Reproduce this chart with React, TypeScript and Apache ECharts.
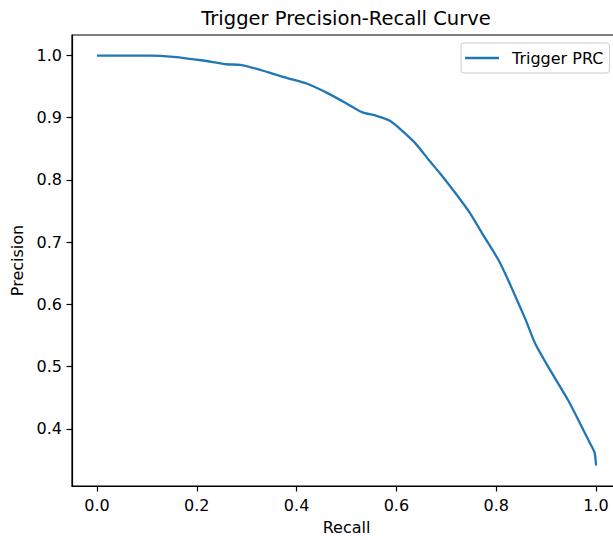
import React, { useEffect, useRef } from "react";
import * as echarts from "echarts";

const recall = [0, 0.05, 0.107, 0.153, 0.213, 0.26, 0.287, 0.327, 0.38, 0.42, 0.461, 0.5, 0.531, 0.56, 0.587, 0.61, 0.639, 0.665, 0.688, 0.72, 0.748, 0.775, 0.804, 0.825, 0.858, 0.878, 0.906, 0.946, 0.987, 0.997, 1.0];
const precision = [1.0, 1.0, 1.0, 0.998, 0.992, 0.986, 0.985, 0.977, 0.964, 0.955, 0.94, 0.923, 0.909, 0.903, 0.895, 0.88, 0.858, 0.832, 0.81, 0.777, 0.746, 0.71, 0.672, 0.637, 0.577, 0.537, 0.497, 0.443, 0.378, 0.362, 0.341];
const xTicks = [0, 0.2, 0.4, 0.6, 0.8, 1.0];
const yTicks = [0.4, 0.5, 0.6, 0.7, 0.8, 0.9, 1.0];
const seriesName = "Trigger PRC";
const titleText = "Trigger Precision-Recall Curve";
const xName = "Recall";
const yName = "Precision";

const FONT = "DejaVu Sans";

export default function App() {
  const ref = useRef<HTMLDivElement>(null);
  useEffect(() => {
    if (!ref.current) return;
    const chart = echarts.init(ref.current, undefined, { renderer: "svg" });
    const data = recall.map((r, i) => [r, precision[i]]);
    chart.setOption({
      animation: false,
      backgroundColor: "#ffffff",
      textStyle: { fontFamily: FONT },
      title: {
        text: titleText,
        left: 346,
        top: 8,
        padding: 0,
        textAlign: "center",
        textStyle: { fontFamily: FONT, fontSize: 19.5, fontWeight: "normal", color: "#000" },
      },
      legend: {
        left: 461,
        top: 43,
        orient: "horizontal",
        padding: [7, 6, 7, 4],
        itemWidth: 34,
        itemHeight: 2.4,
        icon: "rect",
        borderColor: "#cccccc",
        borderWidth: 1,
        borderRadius: 3,
        backgroundColor: "rgba(255,255,255,0.8)",
        textStyle: { fontFamily: FONT, fontSize: 16, color: "#000", padding: [0, 0, 0, 8] },
        data: [seriesName],
      },
      grid: {
        left: 72,
        top: 35,
        width: 549,
        height: 454,
        show: true,
        borderColor: "#000",
        borderWidth: 1.2,
        backgroundColor: "transparent",
      },
      xAxis: {
        type: "value",
        min: -0.05,
        max: 1.05,
        name: xName,
        nameLocation: "middle",
        nameGap: 33,
        nameTextStyle: { fontFamily: FONT, fontSize: 16, color: "#000" },
        axisLine: { show: true, onZero: false, lineStyle: { color: "#000", width: 1.2 } },
        axisTick: { show: true, length: 5.5, lineStyle: { color: "#000", width: 1.2 }, customValues: xTicks },
        axisLabel: {
          customValues: xTicks,
          margin: 11,
          fontFamily: FONT,
          fontSize: 16,
          color: "#000",
          formatter: (v: number) => v.toFixed(1),
        },
        splitLine: { show: false },
      },
      yAxis: {
        type: "value",
        min: 0.308,
        max: 1.033,
        name: yName,
        nameLocation: "middle",
        nameGap: 45,
        nameTextStyle: { fontFamily: FONT, fontSize: 16, color: "#000" },
        axisLine: { show: true, onZero: false, lineStyle: { color: "#000", width: 1.2 } },
        axisTick: { show: true, length: 5.5, lineStyle: { color: "#000", width: 1.2 }, customValues: yTicks },
        axisLabel: {
          customValues: yTicks,
          margin: 10,
          fontFamily: FONT,
          fontSize: 16,
          color: "#000",
          formatter: (v: number) => v.toFixed(1),
        },
        splitLine: { show: false },
      },
      series: [
        {
          name: seriesName,
          type: "line",
          data,
          symbol: "none",
          showSymbol: false,
          smooth: 0.2,
          lineStyle: { color: "#1f77b4", width: 2.3 },
          itemStyle: { color: "#1f77b4" },
        },
      ],
    });
    return () => chart.dispose();
  }, []);
  return (
    <div style={{ position: "fixed", left: 0, top: 0, width: 613, height: 540, overflow: "hidden", background: "#fff" }}>
      <div ref={ref} style={{ position: "absolute", left: 0, top: 0, width: 640, height: 540 }} />
    </div>
  );
}
